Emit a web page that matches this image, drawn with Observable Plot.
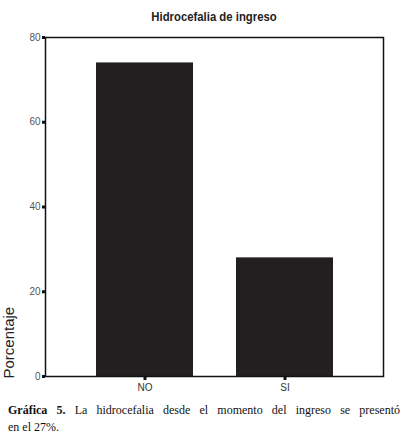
<!DOCTYPE html>
<html>
<head>
<meta charset="utf-8">
<script src="https://cdn.jsdelivr.net/npm/d3@7"></script>
<script src="https://cdn.jsdelivr.net/npm/@observablehq/plot@0.6"></script>
<style>
  html, body { margin: 0; padding: 0; background: #fff; }
  #wrap { position: relative; width: 408px; height: 440px; overflow: hidden; }
  #title { position: absolute; top: 9px; left: 45px; width: 338px; text-align: center;
    font-family: "Liberation Sans", Arial, sans-serif; font-size: 13.5px; font-weight: bold; color: #222;
    transform: scaleX(0.84); transform-origin: 169px 0; }
  #caption { position: absolute; top: 402px; left: 8px; width: 392px;
    font-family: "Liberation Serif", "Times New Roman", serif; font-size: 12px; line-height: 17px; color: #111; }
  #caption .l1 { text-align: justify; text-align-last: justify; white-space: nowrap; }
  #chart { position: absolute; top: 0; left: 0; }
</style>
</head>
<body>
<div id="wrap">
  <div id="chart"></div>
  <div id="title">Hidrocefalia de ingreso</div>
  <div id="caption"><div class="l1"><b>Gráfica 5.</b> La hidrocefalia desde el momento del ingreso se presentó</div><div>en el 27%.</div></div>
</div>
<script>
const categories = ["NO", "SI"];
const values = [74.0, 28.0];
const yTicks = [0, 20, 40, 60, 80];

const data = categories.map((c, i) => ({cat: c, pct: values[i]}));

const chart = Plot.plot({
  width: 408,
  height: 400,
  marginTop: 37,
  marginBottom: 24,
  marginLeft: 45,
  marginRight: 25,
  style: {fontFamily: "'Liberation Sans', Arial, sans-serif", fontSize: "10px", color: "#555", background: "white"},
  x: {domain: categories, paddingInner: 0.31, paddingOuter: 0.36, label: null},
  y: {domain: [0, 80], label: null},
  marks: [
    Plot.barY(data, {x: "cat", y: "pct", fill: "#231f20"}),
    Plot.frame({stroke: "#111", strokeWidth: 1.5}),
    Plot.axisY({ticks: yTicks, tickSize: 3, tickPadding: 2, strokeWidth: 3, stroke: "#111", fill: "#555", label: null}),
    Plot.axisX({tickSize: 4, tickPadding: 3, strokeWidth: 3, stroke: "#111", fill: "#333", label: null}),
    Plot.text(["Porcentaje"], {frameAnchor: "bottom-left", dx: -32, dy: 2, rotate: -90, textAnchor: "start",
      fontSize: 15, fill: "#222", fontFamily: "'Liberation Sans', Arial, sans-serif"})
  ]
});
document.getElementById("chart").appendChild(chart);
</script>
</body>
</html>
